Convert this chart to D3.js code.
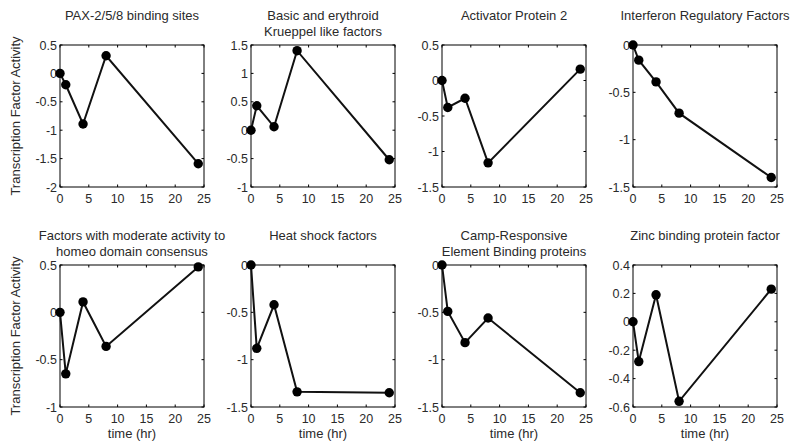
<!DOCTYPE html>
<html>
<head>
<meta charset="utf-8">
<script src="https://cdn.jsdelivr.net/npm/d3@7"></script>
<style>
  body { margin: 0; background: #fff; }
  svg text { font-family: "Liberation Sans", Arial, sans-serif; fill: #2a2a2a; }
</style>
</head>
<body>
<svg id="chart" width="791" height="444"></svg>
<script>
const times = [0, 1, 4, 8, 24];

const titles = [
  ["PAX-2/5/8 binding sites"],
  ["Basic and erythroid", "Krueppel like factors"],
  ["Activator Protein 2"],
  ["Interferon Regulatory Factors"],
  ["Factors with moderate activity to", "homeo domain consensus"],
  ["Heat shock factors"],
  ["Camp-Responsive", "Element Binding proteins"],
  ["Zinc binding protein factor"]
];

const activity = [
  [0, -0.2, -0.89, 0.31, -1.59],
  [0, 0.43, 0.06, 1.4, -0.52],
  [0, -0.38, -0.25, -1.16, 0.16],
  [0, -0.16, -0.39, -0.72, -1.4],
  [0, -0.65, 0.11, -0.36, 0.48],
  [0, -0.88, -0.42, -1.34, -1.35],
  [0, -0.49, -0.82, -0.56, -1.35],
  [0, -0.28, 0.19, -0.56, 0.23]
];

const yMin = [-2, -1, -1.5, -1.5, -1, -1.5, -1.5, -0.6];
const yMax = [0.5, 1.5, 0.5, 0, 0.5, 0, 0, 0.4];
const yStep = [0.5, 0.5, 0.5, 0.5, 0.5, 0.5, 0.5, 0.2];
const xTicks = [0, 5, 10, 15, 20, 25];

const svg = d3.select("#chart");
const w = 144, h = 142;
const fmt = v => String(+v.toFixed(2));

titles.forEach((title, i) => {
  const col = i % 4, row = Math.floor(i / 4);
  const left = 60 + col * 191;
  const top = row === 0 ? 45 : 265;
  const g = svg.append("g").attr("transform", `translate(${left},${top})`);

  const x = d3.scaleLinear().domain([0, 25]).range([0, w]);
  const y = d3.scaleLinear().domain([yMin[i], yMax[i]]).range([h, 0]);
  const yTicks = d3.range(yMin[i], yMax[i] + yStep[i] / 2, yStep[i]);

  // box
  g.append("rect").attr("width", w).attr("height", h)
    .attr("fill", "#fff").attr("stroke", "#000").attr("stroke-width", 1);

  // inward ticks on all four sides
  xTicks.forEach(t => {
    g.append("line").attr("x1", x(t)).attr("x2", x(t)).attr("y1", h).attr("y2", h - 2.5).attr("stroke", "#000");
    g.append("line").attr("x1", x(t)).attr("x2", x(t)).attr("y1", 0).attr("y2", 2.5).attr("stroke", "#000");
    g.append("text").attr("x", x(t)).attr("y", h + 15.5)
      .attr("text-anchor", "middle").attr("font-size", "12.5px").text(fmt(t));
  });
  yTicks.forEach(t => {
    g.append("line").attr("x1", 0).attr("x2", 2.5).attr("y1", y(t)).attr("y2", y(t)).attr("stroke", "#000");
    g.append("line").attr("x1", w).attr("x2", w - 2.5).attr("y1", y(t)).attr("y2", y(t)).attr("stroke", "#000");
    g.append("text").attr("x", -3).attr("y", y(t) + 4.5)
      .attr("text-anchor", "end").attr("font-size", "12.5px").text(fmt(t));
  });

  // series
  const pts = times.map((t, k) => [t, activity[i][k]]);
  g.append("path").datum(pts)
    .attr("fill", "none").attr("stroke", "#111").attr("stroke-width", 2)
    .attr("d", d3.line().x(d => x(d[0])).y(d => y(d[1])));
  g.selectAll("circle.pt").data(pts).join("circle")
    .attr("class", "pt").attr("cx", d => x(d[0])).attr("cy", d => y(d[1]))
    .attr("r", 4.7).attr("fill", "#000");

  // title
  const tBase = row === 0 ? 20 : 240;
  title.forEach((line, k) => {
    svg.append("text").attr("x", left + w / 2).attr("y", tBase + k * 15.5)
      .attr("text-anchor", "middle").attr("font-size", "13px").text(line);
  });

  if (col === 0) {
    svg.append("text")
      .attr("transform", `translate(20,${top + h / 2}) rotate(-90)`)
      .attr("text-anchor", "middle").attr("font-size", "13px")
      .text("Transcription Factor Activity");
  }
  if (row === 1) {
    svg.append("text").attr("x", left + w / 2).attr("y", top + h + 31)
      .attr("text-anchor", "middle").attr("font-size", "13px").text("time (hr)");
  }
});
</script>
</body>
</html>
